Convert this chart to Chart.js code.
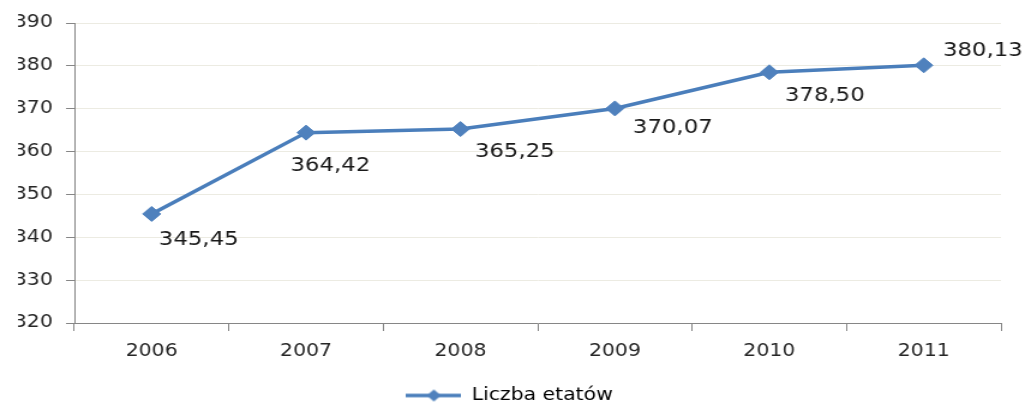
<!DOCTYPE html>
<html>
<head>
<meta charset="utf-8">
<script src="https://cdn.jsdelivr.net/npm/chart.js@4"></script>
<style>
    html, body { margin: 0; padding: 0; background: #fff; overflow: hidden; }
    /* the reference is stretched horizontally, so the chart is drawn narrower and scaled */
    #wrap { width: 854px; height: 405px; transform: scaleX(1.2002); transform-origin: 0 0; }
</style>
</head>
<body>
<div id="wrap"><canvas id="mainChart"></canvas></div>
<script>
const years = ["2006", "2007", "2008", "2009", "2010", "2011"];
const etaty = [345.45, 364.42, 365.25, 370.07, 378.5, 380.13];
const seriesLabel = "Liczba etatów";
const yTicks = { min: 320, max: 390, step: 10 };

const lineColor = "#4a7ebb";
const markerColor = "#4f81bd";
const fontFamily = "'DejaVu Sans', Verdana, sans-serif";

// text left / vertical centre relative to each point
const labelOffsets = [
    [6, 26],
    [-13, 33],
    [12, 23],
    [15, 20],
    [13, 24],
    [16, -14],
];

function formatPl(value) {
    return value.toFixed(2).replace(".", ",");
}

function createLegendIcon() {
    const icon = document.createElement("canvas");
    icon.width = 46;
    icon.height = 14;
    const ctx = icon.getContext("2d");
    ctx.strokeStyle = lineColor;
    ctx.lineWidth = 3.5;
    ctx.beginPath();
    ctx.moveTo(0, 7);
    ctx.lineTo(46, 7);
    ctx.stroke();
    ctx.fillStyle = markerColor;
    ctx.beginPath();
    ctx.moveTo(23 - 6, 7);
    ctx.lineTo(23, 1);
    ctx.lineTo(23 + 6, 7);
    ctx.lineTo(23, 13);
    ctx.closePath();
    ctx.fill();
    return icon;
}

const dataLabels = {
    id: "dataLabels",
    afterDatasetsDraw(chart) {
        const { ctx } = chart;
        const meta = chart.getDatasetMeta(0);
        ctx.save();
        ctx.font = `19px ${fontFamily}`;
        ctx.fillStyle = "#1a1a1a";
        ctx.textAlign = "left";
        ctx.textBaseline = "middle";
        meta.data.forEach((point, index) => {
            const [dx, dy] = labelOffsets[index];
            ctx.fillText(formatPl(etaty[index]), point.x + dx, point.y + dy);
        });
        ctx.restore();
    },
};

const legendIcon = createLegendIcon();

new Chart(document.getElementById("mainChart").getContext("2d"), {
    type: "line",
    data: {
        labels: years,
        datasets: [
            {
                label: seriesLabel,
                data: etaty,
                borderColor: lineColor,
                borderWidth: 3.5,
                pointStyle: "rectRot",
                pointRadius: 7.5,
                pointBackgroundColor: markerColor,
                pointBorderColor: markerColor,
                pointBorderWidth: 1,
                tension: 0,
                fill: false,
            },
        ],
    },
    options: {
        responsive: true,
        maintainAspectRatio: false,
        animation: false,
        layout: { padding: { top: 23, right: 20, left: 15, bottom: -9 } },
        plugins: {
            tooltip: { enabled: false },
            legend: {
                position: "bottom",
                labels: {
                    usePointStyle: true,
                    pointStyleWidth: 46,
                    padding: 3,
                    color: "#111",
                    font: { family: fontFamily, size: 17 },
                    generateLabels: () => [
                        {
                            text: seriesLabel,
                            pointStyle: legendIcon,
                            fillStyle: markerColor,
                            strokeStyle: markerColor,
                            lineWidth: 0,
                            datasetIndex: 0,
                        },
                    ],
                },
            },
        },
        scales: {
            x: {
                offset: true,
                grid: {
                    drawOnChartArea: false,
                    offset: true,
                    tickLength: 8,
                    tickColor: "#868686",
                },
                border: { color: "#868686", width: 1 },
                ticks: {
                    padding: 10,
                    color: "#262626",
                    font: { family: fontFamily, size: 17 },
                },
                afterFit: (scale) => {
                    scale.height = 61;
                },
            },
            y: {
                min: yTicks.min,
                max: yTicks.max,
                grid: {
                    color: "#ecebe2",
                    tickLength: 7,
                    tickColor: "#868686",
                },
                border: { color: "#868686", width: 1 },
                ticks: {
                    stepSize: yTicks.step,
                    padding: 11,
                    color: "#262626",
                    font: { family: fontFamily, size: 17 },
                },
                afterFit: (scale) => {
                    scale.width = 47;
                },
            },
        },
    },
    plugins: [dataLabels],
});
</script>
</body>
</html>
